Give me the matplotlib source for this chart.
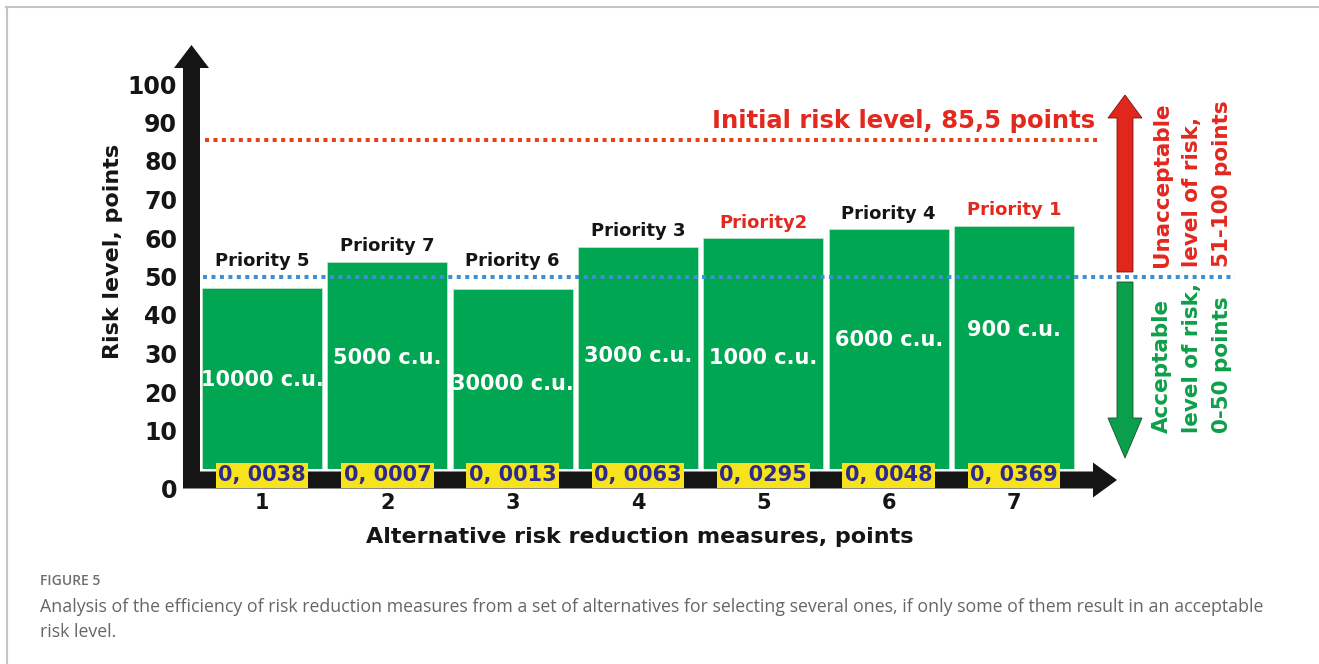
import matplotlib
matplotlib.use("Agg")
import matplotlib.pyplot as plt
from matplotlib.patches import FancyArrow
from matplotlib.lines import Line2D
from matplotlib.transforms import Affine2D, ScaledTranslation

# ---- data -------------------------------------------------------------
measures = [1, 2, 3, 4, 5, 6, 7]
risk_levels = [47.1, 53.8, 46.8, 57.7, 59.9, 62.3, 63.2]
priorities = ["Priority 5", "Priority 7", "Priority 6", "Priority 3",
              "Priority2", "Priority 4", "Priority 1"]
top_priority = [False, False, False, False, True, False, True]
costs = ["10000 c.u.", "5000 c.u.", "30000 c.u.", "3000 c.u.",
         "1000 c.u.", "6000 c.u.", "900 c.u."]
efficiency = ["0, 0038", "0, 0007", "0, 0013", "0, 0063",
              "0, 0295", "0, 0048", "0, 0369"]
cost_label_y = [23.1, 28.8, 22.1, 29.4, 28.8, 33.5, 36.1]
initial_risk = 85.5
acceptable_limit = 50
y_ticks = [0, 10, 20, 30, 40, 50, 60, 70, 80, 90, 100]

# ---- style ------------------------------------------------------------
GREEN = "#00a651"
RED = "#e3281e"
BLUE = "#3d8fd6"
NAVY = "#2e2a8c"
YELLOW = "#f6e31b"
INK = "#151515"
FONT = "DejaVu Sans"

W, H = 1319, 664
fig = plt.figure(figsize=(W / 100, H / 100), dpi=100)
fig.patch.set_facecolor("white")
# pixel space, origin top-left, for the decorative arrows and frame
pix = Affine2D().scale(1 / W, -1 / H).translate(0, 1) + fig.transFigure

ax_left, ax_right, ax_zero, ax_top = 191, 1117, 469, 84
ax = fig.add_axes([ax_left / W, (H - ax_zero) / H,
                   (ax_right - ax_left) / W, (ax_zero - ax_top) / H])
ax.set_facecolor("none")
for s in ax.spines.values():
    s.set_visible(False)

# bars
ax.bar(measures, risk_levels, width=0.957, color=GREEN,
       edgecolor="#b9e6c9", linewidth=0.6, zorder=2)

# reference levels
ax.axhline(initial_risk, xmin=0.015, xmax=0.978, color="#e8411e", lw=2.9,
           linestyle=(0, (1, 1.1)), dash_capstyle="butt", zorder=3, clip_on=False)
ax.axhline(acceptable_limit, xmin=0.013, xmax=1.127, color=BLUE, lw=2.9,
           linestyle=(0, (1, 1.1)), dash_capstyle="butt", zorder=3, clip_on=False)
ax.text(7.646, initial_risk + 5, "Initial risk level, 85,5 points", color=RED,
        fontsize=17.5, fontweight="bold", family=FONT, ha="right", va="center")

# per-bar annotations
for m, v, p, hot, c, cy, e in zip(measures, risk_levels, priorities, top_priority,
                                   costs, cost_label_y, efficiency):
    ax.text(m, max(v, acceptable_limit) + 4, p, color=RED if hot else INK,
            fontsize=13, fontweight="bold", family=FONT, ha="center", va="center",
            zorder=5)
    ax.text(m, cy, c, color="white", fontsize=15, fontweight="bold", family=FONT,
            ha="center", va="center", zorder=5)
    ax.text(m, -1.6, e, color=NAVY, fontsize=15, fontweight="bold", family=FONT,
            ha="center", va="center", zorder=6, clip_on=False,
            bbox=dict(boxstyle="square,pad=0.12", fc=YELLOW, ec="none"))

# zone descriptions on the right
ax.text(8.42, 52.5, "Unacceptable\nlevel of risk,\n51-100 points", color=RED,
        rotation=90, fontsize=15.5, fontweight="bold", family=FONT,
        ha="center", va="bottom", multialignment="left", linespacing=1.6,
        clip_on=False)
ax.text(8.42, 9.35, "Acceptable\nlevel of risk,\n0-50 points", color="#0d9f4a",
        rotation=90, fontsize=15.5, fontweight="bold", family=FONT,
        ha="center", va="bottom", multialignment="left", linespacing=1.6,
        clip_on=False)

# axes, ticks, labels
ax.set_xlim(0.4335, 7.822)
ax.set_ylim(0, 100)
ax.set_xticks(measures)
ax.set_xticklabels([str(m) for m in measures], fontsize=15, fontweight="bold",
                   family=FONT, color=INK)
ax.set_yticks(y_ticks)
ax.set_yticklabels([str(t) for t in y_ticks], fontsize=17, fontweight="bold",
                   family=FONT, color=INK)
ax.tick_params(axis="x", length=0, pad=17)
ax.tick_params(axis="y", length=0, pad=10)
zero_label = ax.get_yticklabels()[0]
zero_label.set_transform(zero_label.get_transform()
                         + ScaledTranslation(0, -0.19, fig.dpi_scale_trans))

ax.set_xlabel("Alternative risk reduction measures, points", fontsize=16,
              fontweight="bold", family=FONT, color=INK, va="center")
ax.xaxis.set_label_coords(0.4849, -0.177)
ax.set_ylabel("Risk level, points", fontsize=16, fontweight="bold",
              family=FONT, color=INK, va="center")
ax.yaxis.set_label_coords(-0.0842, 0.564)

# thick arrow axes
arrows = [
    FancyArrow(191.5, 488, 0, 45 - 488, width=17, head_width=35, head_length=23,
               length_includes_head=True, fc=INK, ec="none"),
    FancyArrow(183, 480, 1117 - 183, 0, width=17, head_width=35, head_length=24,
               length_includes_head=True, fc=INK, ec="none"),
    FancyArrow(1125, 272, 0, 95 - 272, width=16, head_width=34, head_length=23,
               length_includes_head=True, fc="#e1261c", ec="#6b1a14", lw=0.6),
    FancyArrow(1125, 282, 0, 458 - 282, width=16, head_width=34, head_length=40,
               length_includes_head=True, fc="#0aa04b", ec="#1d4d2c", lw=0.6),
]
for a in arrows:
    a.set_transform(pix)
    a.set_clip_on(False)
    a.set_zorder(1)
    ax.add_patch(a)

# card frame
fig.add_artist(Line2D([6, W], [7, 7], transform=pix, color="#c4c4c4", lw=1.5))
fig.add_artist(Line2D([7, 7], [7, H], transform=pix, color="#c4c4c4", lw=1.5))

# caption
fig.text(40 / W, 1 - 581 / H, "FIGURE 5", fontsize=10, color="#6e6e6e",
         family="Open Sans", fontweight="semibold", va="center", ha="left")
fig.text(40 / W, 1 - 607 / H,
         "Analysis of the efficiency of risk reduction measures from a set of "
         "alternatives for selecting several ones, if only some of them result "
         "in an acceptable", fontsize=12.8, color="#666666", family="Open Sans",
         va="center", ha="left")
fig.text(40 / W, 1 - 632 / H, "risk level.", fontsize=12.8, color="#666666",
         family="Open Sans", va="center", ha="left")

fig.savefig("out.png", dpi=100, facecolor="white")
